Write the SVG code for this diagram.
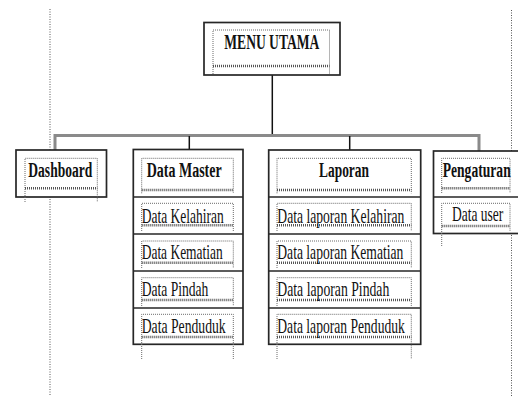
<svg xmlns="http://www.w3.org/2000/svg" width="518" height="396" viewBox="0 0 518 396">
<style>
.bg{fill:#fff}
.box{fill:#fff;stroke:#262626;stroke-width:1.7}
.div{stroke:#262626;stroke-width:1.6}
.frame{fill:none;stroke:#6a6a6a;stroke-width:1;stroke-dasharray:1 1}
.frameb{stroke:#555;stroke-width:2.4;stroke-dasharray:1 1}
.guide{fill:none;stroke:#555;stroke-width:1;stroke-dasharray:1 1.5}
.bar{fill:none;stroke:#8a8a8a;stroke-width:3}
.link{fill:none;stroke:#111;stroke-width:1.5}
.hd{font-family:"Liberation Serif","Times New Roman",serif;font-weight:bold;font-size:14px;fill:#111}
.it{font-family:"Liberation Serif","Times New Roman",serif;font-size:13px;fill:#111}
</style>
<rect class="bg" x="0" y="0" width="518" height="396"/>
<g id="page-guides">
<path class="guide" d="M50 9V396"/>
<path class="guide" d="M511.5 10V396"/>
</g>
<g id="connectors">
<path class="link" d="M272.3 75V135"/>
<path class="bar" d="M55 150V135.5H479V151"/>
<path class="link" d="M189.3 136V149.5"/>
<path class="link" d="M349.7 136V150"/>
</g>
<g id="menu-utama">
<rect class="box" x="204" y="22.5" width="136" height="52.5"/>
<path class="frame" d="M213 74V30H329.5V74"/>
<line class="frameb" x1="213" y1="66" x2="329.5" y2="66"/>
<text class="hd" transform="translate(224.3 48.5) scale(1 1.55)" textLength="95" lengthAdjust="spacingAndGlyphs">MENU UTAMA</text>
</g>
<g id="dashboard">
<rect class="box" x="16" y="150" width="90.5" height="47"/>
<path class="frame" d="M25 202V158.3H97.3V202"/>
<line class="frameb" x1="25" y1="188.3" x2="97.3" y2="188.3"/>
<text class="hd" transform="translate(28.3 177) scale(1 1.55)" textLength="64" lengthAdjust="spacingAndGlyphs">Dashboard</text>
</g>
<g id="data-master">
<rect class="box" x="133.3" y="149.5" width="109.7" height="194.8"/>
<line class="div" x1="133.3" y1="197" x2="243" y2="197"/>
<line class="div" x1="133.3" y1="234" x2="243" y2="234"/>
<line class="div" x1="133.3" y1="271" x2="243" y2="271"/>
<line class="div" x1="133.3" y1="308" x2="243" y2="308"/>
<path class="frame" d="M141.7 193.3V158.3H233.3V193.3"/>
<line class="frameb" x1="141.7" y1="190" x2="233.3" y2="190"/>
<text class="hd" transform="translate(146.7 177) scale(1 1.55)" textLength="75" lengthAdjust="spacingAndGlyphs">Data Master</text>
<path class="frame" d="M141.7 231V203.3H233.3V231"/>
<line class="frameb" x1="141.7" y1="225.3" x2="233.3" y2="225.3"/>
<text class="it" transform="translate(141.7 222.5) scale(1 1.55)" textLength="82" lengthAdjust="spacingAndGlyphs">Data Kelahiran</text>
<path class="frame" d="M141.7 268V241H233.3V268"/>
<line class="frameb" x1="141.7" y1="262.7" x2="233.3" y2="262.7"/>
<text class="it" transform="translate(141.7 259.3) scale(1 1.55)" textLength="81" lengthAdjust="spacingAndGlyphs">Data Kematian</text>
<path class="frame" d="M141.7 306V277.7H233.3V306"/>
<line class="frameb" x1="141.7" y1="300" x2="233.3" y2="300"/>
<text class="it" transform="translate(141.7 296) scale(1 1.55)" textLength="66.7" lengthAdjust="spacingAndGlyphs">Data Pindah</text>
<path class="frame" d="M141.7 359V314.3H233.3V359"/>
<line class="frameb" x1="141.7" y1="337" x2="233.3" y2="337"/>
<text class="it" transform="translate(141.7 332.7) scale(1 1.55)" textLength="84" lengthAdjust="spacingAndGlyphs">Data Penduduk</text>
</g>
<g id="laporan">
<rect class="box" x="268.7" y="150" width="152" height="194.3"/>
<line class="div" x1="268.7" y1="197" x2="420.7" y2="197"/>
<line class="div" x1="268.7" y1="234" x2="420.7" y2="234"/>
<line class="div" x1="268.7" y1="271" x2="420.7" y2="271"/>
<line class="div" x1="268.7" y1="308" x2="420.7" y2="308"/>
<path class="frame" d="M277 193.3V158.3H411.3V193.3"/>
<line class="frameb" x1="277" y1="190" x2="411.3" y2="190"/>
<text class="hd" transform="translate(319 177) scale(1 1.55)" textLength="50" lengthAdjust="spacingAndGlyphs">Laporan</text>
<path class="frame" d="M277 231V203.3H411.3V231"/>
<line class="frameb" x1="277" y1="225.3" x2="411.3" y2="225.3"/>
<text class="it" transform="translate(277.3 222.5) scale(1 1.55)" textLength="127" lengthAdjust="spacingAndGlyphs">Data laporan Kelahiran</text>
<path class="frame" d="M277 268V241H411.3V268"/>
<line class="frameb" x1="277" y1="262.7" x2="411.3" y2="262.7"/>
<text class="it" transform="translate(277.3 259.3) scale(1 1.55)" textLength="126" lengthAdjust="spacingAndGlyphs">Data laporan Kematian</text>
<path class="frame" d="M277 306V277.7H411.3V306"/>
<line class="frameb" x1="277" y1="300" x2="411.3" y2="300"/>
<text class="it" transform="translate(277.3 296) scale(1 1.55)" textLength="112" lengthAdjust="spacingAndGlyphs">Data laporan Pindah</text>
<path class="frame" d="M277 359V314.3H411.3V359"/>
<line class="frameb" x1="277" y1="337" x2="411.3" y2="337"/>
<text class="it" transform="translate(277.3 332.7) scale(1 1.55)" textLength="127.5" lengthAdjust="spacingAndGlyphs">Data laporan Penduduk</text>
</g>
<g id="pengaturan">
<rect class="box" x="433.5" y="151" width="90" height="82.5"/>
<line class="div" x1="433.5" y1="197" x2="518" y2="197"/>
<path class="frame" d="M441.7 193V158.3H510V193"/>
<line class="frameb" x1="441.7" y1="188.3" x2="510" y2="188.3"/>
<text class="hd" transform="translate(442.7 177) scale(1 1.55)" textLength="68" lengthAdjust="spacingAndGlyphs">Pengaturan</text>
<path class="frame" d="M441.7 246V203.3H510V231"/>
<line class="frameb" x1="441.7" y1="226" x2="510" y2="226"/>
<text class="it" transform="translate(452 221) scale(1 1.55)" textLength="51.3" lengthAdjust="spacingAndGlyphs">Data user</text>
</g>
</svg>
